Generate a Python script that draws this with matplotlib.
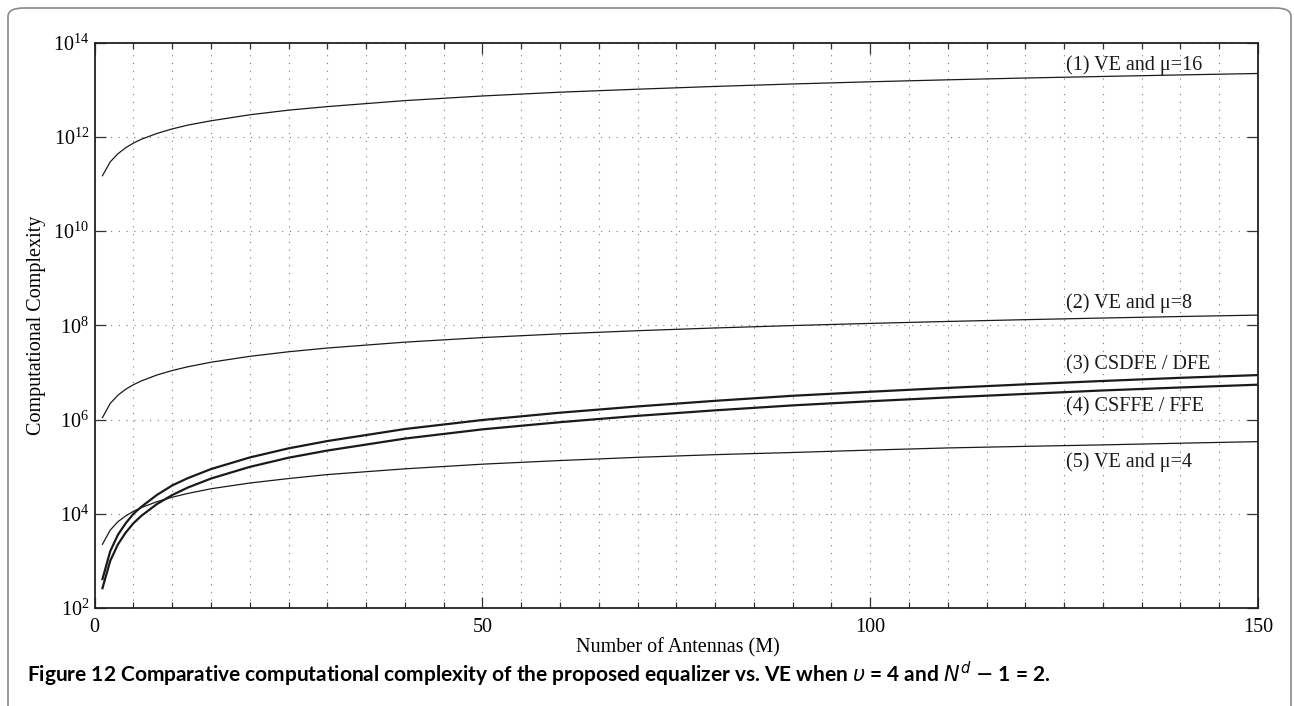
import matplotlib
matplotlib.use("Agg")
import matplotlib.pyplot as plt
from matplotlib.ticker import MultipleLocator, FixedLocator, NullLocator
from matplotlib.patches import FancyBboxPatch

plt.rcParams["font.family"] = ["Liberation Serif", "DejaVu Serif"]
plt.rcParams["mathtext.fontset"] = "stix"

# ---------------------------------------------------------------------------
# Data (number of antennas M vs. complexity)
# ---------------------------------------------------------------------------
antennas = [1, 2, 3, 4, 5, 6, 8, 10, 12, 15, 20, 25, 30, 40, 50,
            60, 70, 80, 90, 100, 110, 120, 130, 140, 150]

ve_mu16 = [1.5e11, 2.95e11, 4.4e11, 5.9e11, 7.4e11, 8.9e11, 1.18e12, 1.48e12,
           1.78e12, 2.2e12, 2.95e12, 3.7e12, 4.4e12, 5.9e12, 7.4e12, 8.9e12,
           1.03e13, 1.18e13, 1.33e13, 1.48e13, 1.63e13, 1.78e13, 1.92e13,
           2.07e13, 2.22e13]
ve_mu8 = [1.1e6, 2.2e6, 3.3e6, 4.4e6, 5.5e6, 6.6e6, 8.8e6, 1.1e7, 1.32e7,
          1.65e7, 2.2e7, 2.75e7, 3.3e7, 4.4e7, 5.5e7, 6.6e7, 7.7e7, 8.8e7,
          9.9e7, 1.1e8, 1.21e8, 1.32e8, 1.43e8, 1.54e8, 1.65e8]
csdfe = [410, 1.6e3, 3.6e3, 6.3e3, 1.0e4, 1.4e4, 2.5e4, 4.0e4, 5.7e4, 8.9e4,
         1.57e5, 2.45e5, 3.5e5, 6.3e5, 9.8e5, 1.4e6, 1.9e6, 2.5e6, 3.2e6,
         3.9e6, 4.7e6, 5.6e6, 6.6e6, 7.7e6, 8.8e6]
csffe = [263, 1.0e3, 2.25e3, 4.0e3, 6.3e3, 9.0e3, 1.6e4, 2.5e4, 3.6e4, 5.6e4,
         9.9e4, 1.55e5, 2.2e5, 3.95e5, 6.2e5, 8.8e5, 1.2e6, 1.57e6, 2.0e6,
         2.45e6, 2.95e6, 3.5e6, 4.15e6, 4.8e6, 5.5e6]
ve_mu4 = [2.25e3, 4.5e3, 6.8e3, 9.0e3, 1.13e4, 1.35e4, 1.8e4, 2.25e4, 2.7e4,
          3.4e4, 4.5e4, 5.6e4, 6.8e4, 9.0e4, 1.13e5, 1.35e5, 1.58e5, 1.8e5,
          2.0e5, 2.25e5, 2.5e5, 2.7e5, 2.9e5, 3.15e5, 3.4e5]

labels = ["(1) VE and \u03bc=16", "(2) VE and \u03bc=8", "(3) CSDFE / DFE",
          "(4) CSFFE / FFE", "(5) VE and \u03bc=4"]
label_y = [3.4e13, 2.95e8, 1.45e7, 1.85e6, 1.26e5]
label_x = 125.2

yticks = [1e2, 1e4, 1e6, 1e8, 1e10, 1e12, 1e14]

# ---------------------------------------------------------------------------
# Figure
# ---------------------------------------------------------------------------
W, H = 1294, 706
fig = plt.figure(figsize=(W / 100, H / 100), dpi=100)

# rounded frame around the whole figure (open at the bottom)
frame = FancyBboxPatch((8 / W, -30 / H), (1291 - 8) / W, (698 + 30) / H,
                       boxstyle="round,pad=0,rounding_size=0.012",
                       transform=fig.transFigure, fill=False,
                       edgecolor="#8a8a8a", linewidth=1.2)
fig.patches.append(frame)

ax = fig.add_axes([94.7 / W, 98 / H, (1258 - 94.7) / W, (608 - 42.7) / H])

thin = 0.9
thick = 1.6
ax.plot(antennas, ve_mu16, color="#1a1a1a", lw=thin)
ax.plot(antennas, ve_mu8, color="#1a1a1a", lw=thin)
ax.plot(antennas, csdfe, color="#1a1a1a", lw=thick)
ax.plot(antennas, csffe, color="#1a1a1a", lw=thick)
ax.plot(antennas, ve_mu4, color="#1a1a1a", lw=thin)

ax.set_yscale("log")
ax.set_xlim(0, 150)
ax.set_ylim(1e2, 1e14)

ax.xaxis.set_major_locator(FixedLocator([0, 50, 100, 150]))
ax.xaxis.set_minor_locator(MultipleLocator(5))
ax.yaxis.set_major_locator(FixedLocator(yticks))
ax.yaxis.set_minor_locator(NullLocator())

fs = 14.5
ax.tick_params(which="both", direction="in", top=True, right=True,
               labelsize=fs, width=0.9, color="#333333")
ax.tick_params(axis="x", which="major", length=8, pad=7)
ax.tick_params(axis="x", which="minor", length=4.5)
ax.tick_params(axis="y", which="major", length=8, pad=4)

grid_kw = dict(color="#7a7a7a", linestyle=(0, (1, 6)), linewidth=0.8)
ax.grid(True, which="both", axis="x", **grid_kw)
ax.grid(True, which="major", axis="y", **grid_kw)

for sp in ax.spines.values():
    sp.set_linewidth(1.3)
    sp.set_color("#222222")

for txt, yv in zip(labels, label_y):
    ax.text(label_x, yv, txt, fontsize=fs, ha="left", va="center",
            color="#1a1a1a")

ax.set_xlabel("Number of Antennas (M)", fontsize=fs)
ax.xaxis.set_label_coords(0.501, -0.053)
ax.set_ylabel("Computational Complexity", fontsize=fs)
ax.yaxis.set_label_coords(-0.042, 0.5)

caption = (r"Figure 12 Comparative computational complexity of the proposed "
           r"equalizer vs. VE when $\upsilon$ = 4 and $N^d$ $-$ 1 = 2.")
fig.text(27 / W, (H - 674) / H, caption, fontsize=15, fontweight="bold",
         family=["Lato", "DejaVu Sans"], ha="left", va="center",
         math_fontfamily="dejavusans")

fig.savefig("out.png", dpi=100)
